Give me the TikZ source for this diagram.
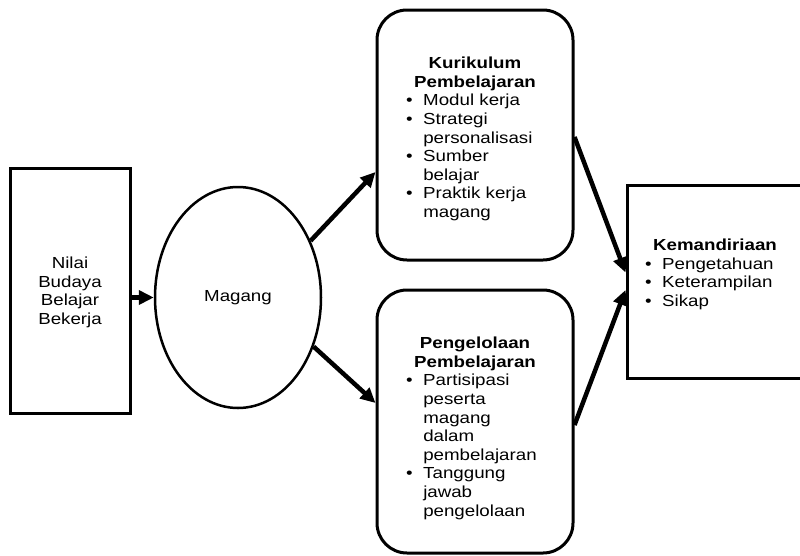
\documentclass[tikz,border=0pt]{standalone}
\usepackage{fontspec}
\setmainfont[FakeStretch=1.17]{Liberation Sans}
\usetikzlibrary{shapes.geometric,arrows.meta}
\newcommand{\blt}{\textbullet}
\begin{document}
\begin{tikzpicture}[x=1pt,y=-1pt,
  box/.style={draw,line width=3pt,inner sep=0pt},
  rbox/.style={box,rounded corners=30pt,minimum width=196pt},
  txt/.style={inner sep=0pt,font=\fontsize{16}{18.6}\selectfont},
  arr/.style={line width=4.5pt,-{Triangle[length=15pt,width=14pt]}}]
\clip (0,0) rectangle (800,555);
% boxes
\node[box,minimum width=120pt,minimum height=245pt] (nilai) at (70,290.5) {};
\node[draw,ellipse,line width=2.5pt,minimum width=166pt,minimum height=221pt,inner sep=0pt,
      font=\fontsize{16}{18.6}\selectfont] (magang) at (238,297.5) {Magang};
\node[rbox,minimum height=250pt] (kur) at (475,135) {};
\node[rbox,minimum height=263pt] (peng) at (475,421.5) {};
\node[box,minimum width=213pt,minimum height=193pt] (kem) at (733.5,281.5) {};
% texts
\node[txt,anchor=north] (nilaitxt) at (70,255.4)
  {\begin{tabular}{@{}c@{}}Nilai\\Budaya\\Belajar\\Bekerja\end{tabular}};
\node[txt,anchor=north] (kurhead) at (475,55.4)
  {\begin{tabular}{@{}c@{}}\textbf{Kurikulum}\\\textbf{Pembelajaran}\end{tabular}};
\node[txt,anchor=north west] (kurlist) at (406,92.6)
  {\begin{tabular}{@{}l@{\hspace{10.5pt}}l@{}}
   \blt & Modul kerja\\
   \blt & Strategi\\
        & personalisasi\\
   \blt & Sumber\\
        & belajar\\
   \blt & Praktik kerja\\
        & magang
   \end{tabular}};
\node[txt,anchor=north] (penghead) at (475,335.4)
  {\begin{tabular}{@{}c@{}}\textbf{Pengelolaan}\\\textbf{Pembelajaran}\end{tabular}};
\node[txt,anchor=north west] (penglist) at (406,372.6)
  {\begin{tabular}{@{}l@{\hspace{10.5pt}}l@{}}
   \blt & Partisipasi\\
        & peserta\\
        & magang\\
        & dalam\\
        & pembelajaran\\
   \blt & Tanggung\\
        & jawab\\
        & pengelolaan
   \end{tabular}};
\node[txt,anchor=north] (kemhead) at (715,237.4)
  {\begin{tabular}{@{}c@{}}\textbf{Kemandiriaan}\end{tabular}};
\node[txt,anchor=north west] (kemlist) at (645,256)
  {\begin{tabular}{@{}l@{\hspace{10.5pt}}l@{}}
   \blt & Pengetahuan\\
   \blt & Keterampilan\\
   \blt & Sikap
   \end{tabular}};
% connectors
\draw[arr] (nilai.east |- magang.west) -- (magang.west);
\draw[arr] (magang.38) -- ([yshift=-37pt]kur.west);
\draw[arr] (magang.-33) -- ([yshift=18.5pt]peng.west);
\draw[arr] ([yshift=-2pt]kur.east) -- ([yshift=9pt]kem.west);
\draw[arr] ([yshift=-3.5pt]peng.east) -- ([yshift=-8.5pt]kem.west);
\end{tikzpicture}
\end{document}
